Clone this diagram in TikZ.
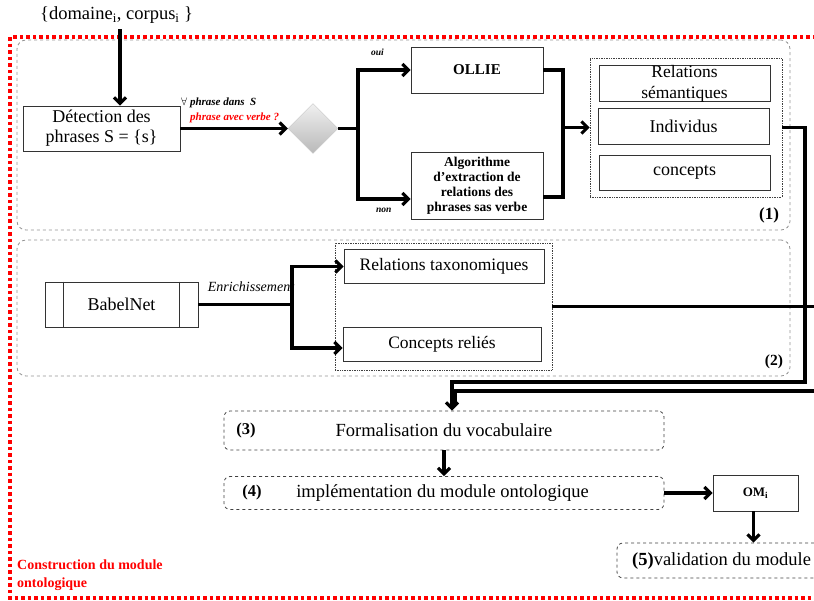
\documentclass[tikz,border=0pt]{standalone}
\usepackage{fontspec}
\setmainfont{Liberation Serif}
\usetikzlibrary{arrows.meta,shapes.geometric,calc}
\begin{document}
\begin{tikzpicture}[x=1pt,y=-1pt,
  box/.style={draw=black!80,line width=0.9pt,fill=white,align=center,inner sep=0pt,font=\fontsize{18}{20}\selectfont},
  grp/.style={draw=gray!85,dashed,line width=0.8pt,rounded corners=9pt,inner sep=0pt},
  dbox/.style={draw=black!75,dashed,line width=0.8pt,rounded corners=6pt,inner sep=0pt,align=center,font=\fontsize{18.5}{20}\selectfont},
  dotbox/.style={draw=black!75,densely dotted,line width=0.7pt,inner sep=0pt},
  con/.style={line width=3.1pt,black},
  arr/.style={con,-{Straight Barb[length=6pt,width=12pt]}},
  num/.style={font=\bfseries\fontsize{16.5}{18}\selectfont,inner sep=0pt},
  lab/.style={font=\bfseries\itshape\fontsize{11}{12}\selectfont,inner sep=0pt,anchor=west}
]
\useasboundingbox (0,0) rectangle (814,600);

% outer red frame
\draw[red,line width=3.5pt,dash pattern=on 3.5pt off 3pt] (10,37) rectangle (840,598);
\node[font=\bfseries\fontsize{14}{18}\selectfont,text=red,align=left,anchor=west,inner sep=0pt] (constr) at (17,575) {Construction du module\\ontologique};

% group boxes
\node[grp,minimum width=773pt,minimum height=190pt] (g1) at (403.5,135) {};
\node[grp,minimum width=773pt,minimum height=136pt] (g2) at (403.5,308) {};
\node[num,font=\bfseries\fontsize{17}{18}\selectfont] (n1) at (769,215) {(1)};
\node[num,font=\bfseries\fontsize{15.5}{18}\selectfont] (n2) at (774,362) {(2)};

% top input
\node[font=\fontsize{18.5}{20}\selectfont,inner sep=0pt,anchor=west] (top) at (40,15) {\{domaine\textsubscript{i}, corpus\textsubscript{i} \}};
\coordinate (tin) at (120,29);

% stage 1
\node[box,minimum width=157pt,minimum height=45pt] (det) at (101.5,128.5) {Détection des\\phrases S = \{s\}};
\node[diamond,minimum width=50pt,minimum height=50pt,inner sep=0pt,draw=gray!45,top color=gray!12,bottom color=gray!55] (dia) at (313,128.5) {};
\node[box,minimum width=132pt,minimum height=46pt,font=\bfseries\fontsize{15}{17}\selectfont] (ollie) at (477,70) {OLLIE};
\node[box,minimum width=132pt,minimum height=67pt,font=\bfseries\fontsize{13.5}{15}\selectfont] (algo) at (477,185.5) {Algorithme\\d’extraction de\\relations des\\phrases sas verbe};
\node[dotbox,minimum width=192pt,minimum height=139pt] (in1) at (686,127.5) {};
\node[box,minimum width=171pt,minimum height=35pt,font=\fontsize{17.5}{21}\selectfont] (relsem) at (684.5,83.5) {Relations\\sémantiques};
\node[box,minimum width=171pt,minimum height=36pt] (indiv) at (683.5,126) {Individus};
\node[box,minimum width=171pt,minimum height=35pt] (conc) at (684.5,172.5) {concepts};

\draw[arr] (tin) -- (tin |- det.north);
\draw[arr] (det.east) -- (dia.west);
\node[lab] (forall) at (181,103) {$\forall$ phrase dans\enspace S};
\node[lab,text=red] (avec) at (190,118) {phrase avec verbe ?};
\coordinate (d1) at (358,128.5);
\draw[con] (dia.east) -- (d1);
\draw[arr] (d1) |- (ollie.west);
\draw[arr] (d1) |- ([yshift=-13.5pt]algo.west);
\node[lab,font=\bfseries\itshape\fontsize{9.5}{11}\selectfont] (oui) at (371,52) {oui};
\node[lab,font=\bfseries\itshape\fontsize{9.5}{11}\selectfont] (non) at (376,210) {non};
\coordinate (j1) at (563,127.5);
\draw[con] (ollie.east) -| (j1);
\draw[con] ([yshift=-11.5pt]algo.east) -| (j1);
\draw[arr] (j1) -- (in1.west);

% stage 2
\node[box,minimum width=153pt,minimum height=45pt] (babel) at (121.5,304.5) {BabelNet};
\draw[line width=0.9pt,black!80] ($(babel.north west)+(19,0)$) -- ($(babel.south west)+(19,0)$);
\draw[line width=0.9pt,black!80] ($(babel.north east)+(-19,0)$) -- ($(babel.south east)+(-19,0)$);
\node[dotbox,minimum width=217pt,minimum height=127pt] (in2) at (443.5,306.5) {};
\node[box,minimum width=200pt,minimum height=34pt,font=\fontsize{17.5}{19}\selectfont] (reltax) at (444,266.5) {Relations taxonomiques};
\node[box,minimum width=198pt,minimum height=34pt,font=\fontsize{17.5}{19}\selectfont] (concrel) at (442,344) {Concepts reliés};
\coordinate (b1) at (292,304.5);
\draw[con] (babel.east) -- (b1);
\draw[arr] (b1) |- (reltax.west);
\draw[arr] (b1) |- ([yshift=-4pt]concrel.west);
\node[font=\itshape\fontsize{14}{16}\selectfont,inner sep=0pt] (enr) at (251,287) {Enrichissement};

% stages 3-5
\node[dbox,minimum width=440pt,minimum height=39pt] (form) at (444,430.5) {Formalisation du vocabulaire};
\node[num] (n3) at (246,431) {(3)};
\node[dbox,minimum width=440pt,minimum height=33pt] (impl) at (444,493) {\hspace*{-3pt}implémentation du module ontologique};
\node[num] (n4) at (252,493) {(4)};
\node[box,minimum width=85pt,minimum height=36pt,font=\bfseries\fontsize{13}{15}\selectfont] (om) at (755.5,493) {OM\textsubscript{i}};
\node[dbox,minimum width=233pt,minimum height=35pt] (valid) at (733.5,560.5) {};
\node[anchor=west,inner sep=0pt,font=\fontsize{18.5}{20}\selectfont] (validt) at (632,561) {\textbf{(5)}validation du module};

\coordinate (c1) at (805,382);
\coordinate (c2) at (840,391);
\draw[arr] (in1.east) -| (c1) -| ([xshift=8pt]form.north);
\draw[con] (in2.east) -| (c2) -| ([xshift=11pt,yshift=6pt]form.north);
\draw[arr] (form.south) -- (impl.north);
\draw[arr] (impl.east) -- (om.west);
\draw[arr] ([xshift=-2pt]om.south) -- ([xshift=-2pt]om.south |- valid.north);
\end{tikzpicture}
\end{document}
